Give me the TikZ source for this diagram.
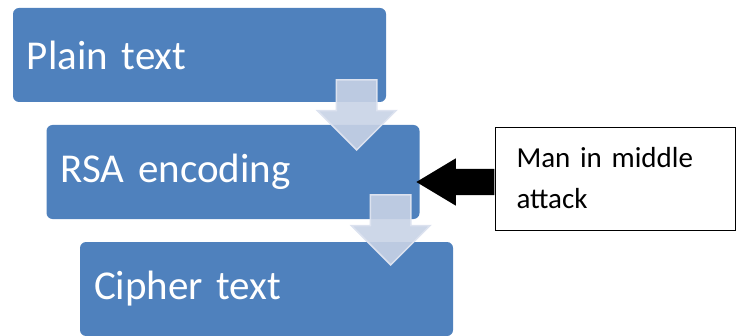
\documentclass[tikz,border=0pt]{standalone}
\usepackage{fontspec}
\setmainfont{Carlito}
\usepackage{tikz}
\usetikzlibrary{positioning,calc,shapes.arrows}
\definecolor{boxblue}{HTML}{4F81BD}
\definecolor{arrowfill}{RGB}{200,211,230}
\definecolor{arrowline}{RGB}{220,226,239}

\begin{document}
\begin{tikzpicture}[x=1pt,y=1pt,node distance=117pt and 33.5pt,on grid,
	stage/.style={rectangle,rounded corners=6pt,fill=boxblue,text=white,
		minimum width=373pt,minimum height=94pt,text width=345pt,inner xsep=14pt,
		align=left,font=\fontsize{41}{49}\selectfont},
	flow/.style={single arrow,rotate=-90,fill=arrowfill,fill opacity=0.9,
		draw=arrowline,line width=1.5pt,inner xsep=0pt,inner ysep=19.5pt,
		minimum height=70pt,single arrow head extend=19pt,single arrow head indent=0pt},
	attack/.style={single arrow,rotate=180,fill=black,inner xsep=0pt,inner ysep=13pt,
		minimum height=78pt,single arrow head extend=10.5pt,
		single arrow tip angle=62},
	note/.style={rectangle,draw=black,line width=0.8pt,fill=white,minimum width=240pt,
		minimum height=103pt,text width=197pt,inner xsep=21.5pt,align=left,
		font=\fontsize{29}{41}\selectfont}]
	\useasboundingbox (0,0) rectangle (736,335);
	\node[stage] (plain) at (199.5,280) {Plain text};
	\node[stage] (rsa) [below right=of plain] {RSA encoding};
	\node[stage] (cipher) [below right=of rsa] {Cipher text};
	\node[flow,anchor=tail] (step1) at ($(plain.south east)+(-29.5,23)$) {};
	\node[flow,anchor=tail] (step2) at ($(rsa.south east)+(-29,25)$) {};
	\node[note] (mitm) at (615,156.5) {Man in middle\\attack};
	\node[attack,anchor=tail] (hit) at ($(mitm.west)+(0,-3.5)$) {};
\end{tikzpicture}
\end{document}
